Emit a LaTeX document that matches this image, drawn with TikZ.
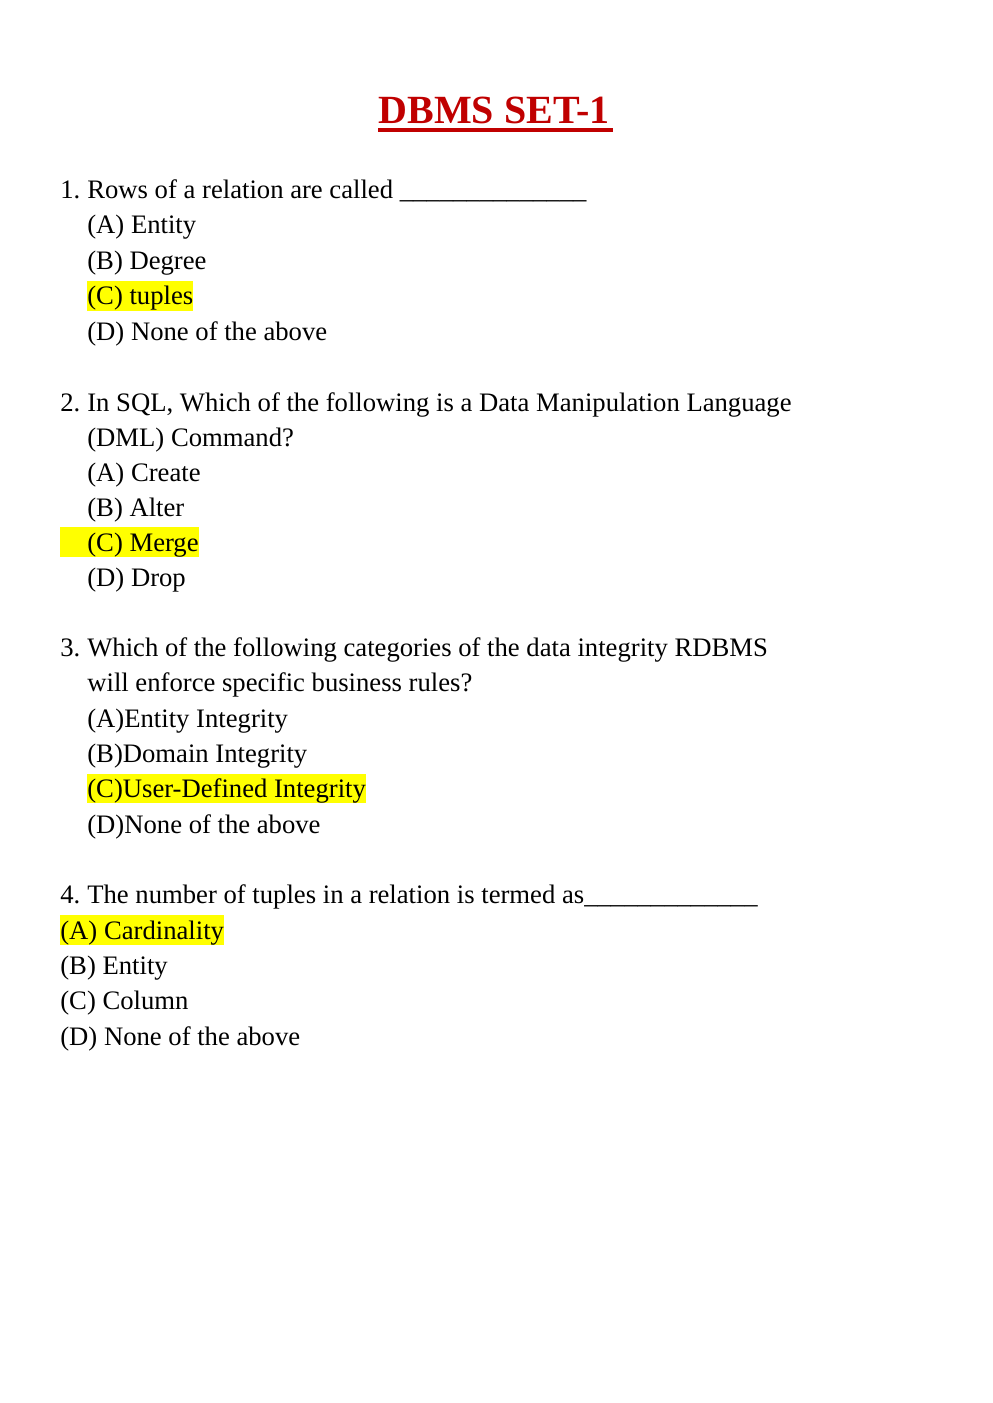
\documentclass[tikz,border=0pt]{standalone}
\usepackage{fontspec}
\setmainfont{Liberation Serif}
\definecolor{titlered}{HTML}{C00000}
\definecolor{hl}{HTML}{FFFF00}
\newcommand{\qnum}[1]{\makebox[16.2pt][l]{#1}}
\begin{document}
\begin{tikzpicture}[x=0.6pt,y=-0.6pt,
  txt/.style={anchor=base west,inner sep=0pt,font=\fontsize{16}{19}\selectfont},
  hilite/.style={txt,fill=hl,text height=14.26pt,text depth=3.46pt},
  ttl/.style={anchor=base,inner sep=0pt,font=\fontsize{24}{28}\selectfont\bfseries,text=titlered}]
\useasboundingbox (0,0) rectangle (992,1403);
\fill[white] (0,0) rectangle (992,1403);
% title
\node[ttl] (title) at (494,123.3) {DBMS SET-1};
\fill[titlered] (title.base west |- 0,127.7) rectangle ([xshift=3*0.6pt]title.base east |- 0,131.7);
% Q1
\node[txt] (q1) at (60,198.3) {\qnum{1.}Rows of a relation are called \_\_\_\_\_\_\_\_\_\_\_\_\_\_};
\node[txt] (q1a) at (87,234) {(A) Entity};
\node[txt] (q1b) at (87,269.5) {(B) Degree};
\node[hilite] (q1c) at (87,305) {(C) tuples};
\node[txt] (q1d) at (87,340.5) {(D) None of the above};
% Q2
\node[txt] (q2) at (60,411.3) {\qnum{2.}In SQL, Which of the following is a Data Manipulation Language};
\node[txt] (q2l2) at (87,446) {(DML) Command?};
\node[txt] (q2a) at (87,481) {(A) Create};
\node[txt] (q2b) at (87,516) {(B) Alter};
\node[hilite] (q2c) at (60,551) {\hspace*{16.2pt}(C) Merge};
\node[txt] (q2d) at (87,586.5) {(D) Drop};
% Q3
\node[txt] (q3) at (60,656.7) {\qnum{3.}Which of the following categories of the data integrity RDBMS};
\node[txt] (q3l2) at (87,691.7) {will enforce specific business rules?};
\node[txt] (q3a) at (87,727) {(A)Entity Integrity};
\node[txt] (q3b) at (87,762.5) {(B)Domain Integrity};
\node[hilite] (q3c) at (87,797.5) {(C)User-Defined Integrity};
\node[txt] (q3d) at (87,833) {(D)None of the above};
% Q4
\node[txt] (q4) at (60,903.3) {\qnum{4.}The number of tuples in a relation is termed as\_\_\_\_\_\_\_\_\_\_\_\_\_};
\node[hilite] (q4a) at (60,939) {(A) Cardinality};
\node[txt] (q4b) at (60,974.5) {(B) Entity};
\node[txt] (q4c) at (60,1009.5) {(C) Column};
\node[txt] (q4d) at (60,1045) {(D) None of the above};
\end{tikzpicture}
\end{document}
